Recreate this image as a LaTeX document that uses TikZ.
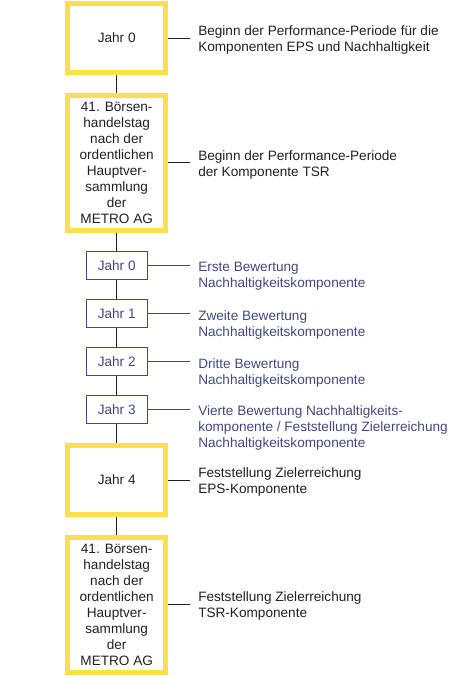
\documentclass[tikz,border=0pt]{standalone}
\usepackage{fontspec}
\setmainfont{Liberation Sans}
\definecolor{myyellow}{HTML}{FCDF4A}
\definecolor{myblue}{HTML}{3F4A7B}
\definecolor{mytext}{HTML}{231F20}
\newcommand{\myfs}{\fontsize{10.2}{12}\selectfont}
\begin{document}
\begin{tikzpicture}[x=0.75pt,y=-0.75pt,
  ybox/.style={draw=myyellow, line width=3.75pt, minimum width=73.5pt, inner sep=0pt, align=center, font=\myfs, text=mytext},
  sbox/.style={draw=myblue, line width=0.8pt, minimum width=45.75pt, minimum height=21pt, inner sep=0pt, text=myblue, font=\myfs},
  lbl/.style={anchor=west, align=left, inner sep=0pt, font=\myfs, text=mytext},
  blbl/.style={lbl, text=myblue},
  conn/.style={draw=mytext, line width=0.75pt},
  bconn/.style={draw=myblue, line width=0.75pt}]
\useasboundingbox (0,0) rectangle (460,676);

% main boxes
\node[ybox, minimum height=51.75pt] (y1) at (116.7,38) {Jahr 0};
\node[ybox, minimum height=101.1pt] (y2) at (116.7,162.7) {41. Börsen-\\handelstag\\nach der\\ordentlichen\\Hauptver-\\sammlung\\der\\METRO AG};
\node[sbox] (s0) at (116.7,265.2) {Jahr 0};
\node[sbox] (s1) at (116.7,313.3) {Jahr 1};
\node[sbox] (s2) at (116.7,361.3) {Jahr 2};
\node[sbox] (s3) at (116.7,409.3) {Jahr 3};
\node[ybox, minimum height=51.3pt] (y4) at (116.7,480) {Jahr 4};
\node[ybox, minimum height=101pt] (y5) at (116.7,604.9) {41. Börsen-\\handelstag\\nach der\\ordentlichen\\Hauptver-\\sammlung\\der\\METRO AG};

% vertical line
\draw[conn] (y1.south) -- (y2.north);
\draw[conn] (y2.south) -- (s0.north);
\draw[conn] (s0.south) -- (s1.north);
\draw[conn] (s1.south) -- (s2.north);
\draw[conn] (s2.south) -- (s3.north);
\draw[conn] (s3.south) -- (y4.north);
\draw[conn] (y4.south) -- (y5.north);

% connector ends
\coordinate (e1) at (190,38);
\coordinate (e2) at (190,162.7);
\coordinate (f0) at (190,265.2);
\coordinate (f1) at (190,313.3);
\coordinate (f2) at (190,361.3);
\coordinate (f3) at (190,409.3);
\coordinate (e4) at (190,480);
\coordinate (e5) at (190,604.9);

\draw[conn] (y1.east) -- (e1);
\draw[conn] (y2.east) -- (e2);
\draw[bconn] (s0.east) -- (f0);
\draw[bconn] (s1.east) -- (f1);
\draw[bconn] (s2.east) -- (f2);
\draw[bconn] (s3.east) -- (f3);
\draw[conn] (y4.east) -- (e4);
\draw[conn] (y5.east) -- (e5);

% labels
\node[lbl] (l1) at (198,40) {Beginn der Performance-Periode für die\\Komponenten EPS und Nachhaltigkeit};
\node[lbl] (l2) at (198,164.5) {Beginn der Performance-Periode\\der Komponente TSR};
\node[blbl] (m0) at (198,276) {Erste Bewertung\\Nachhaltigkeitskomponente};
\node[blbl] (m1) at (198,324.5) {Zweite Bewertung\\Nachhaltigkeitskomponente};
\node[blbl] (m2) at (198,372.5) {Dritte Bewertung\\Nachhaltigkeitskomponente};
\node[blbl] (m3) at (198,427.5) {Vierte Bewertung Nachhaltigkeits-\\komponente / Feststellung Zielerreichung\\Nachhaltigkeitskomponente};
\node[lbl] (l4) at (198,481.5) {Feststellung Zielerreichung\\EPS-Komponente};
\node[lbl] (l5) at (198,606) {Feststellung Zielerreichung\\TSR-Komponente};
\end{tikzpicture}
\end{document}
